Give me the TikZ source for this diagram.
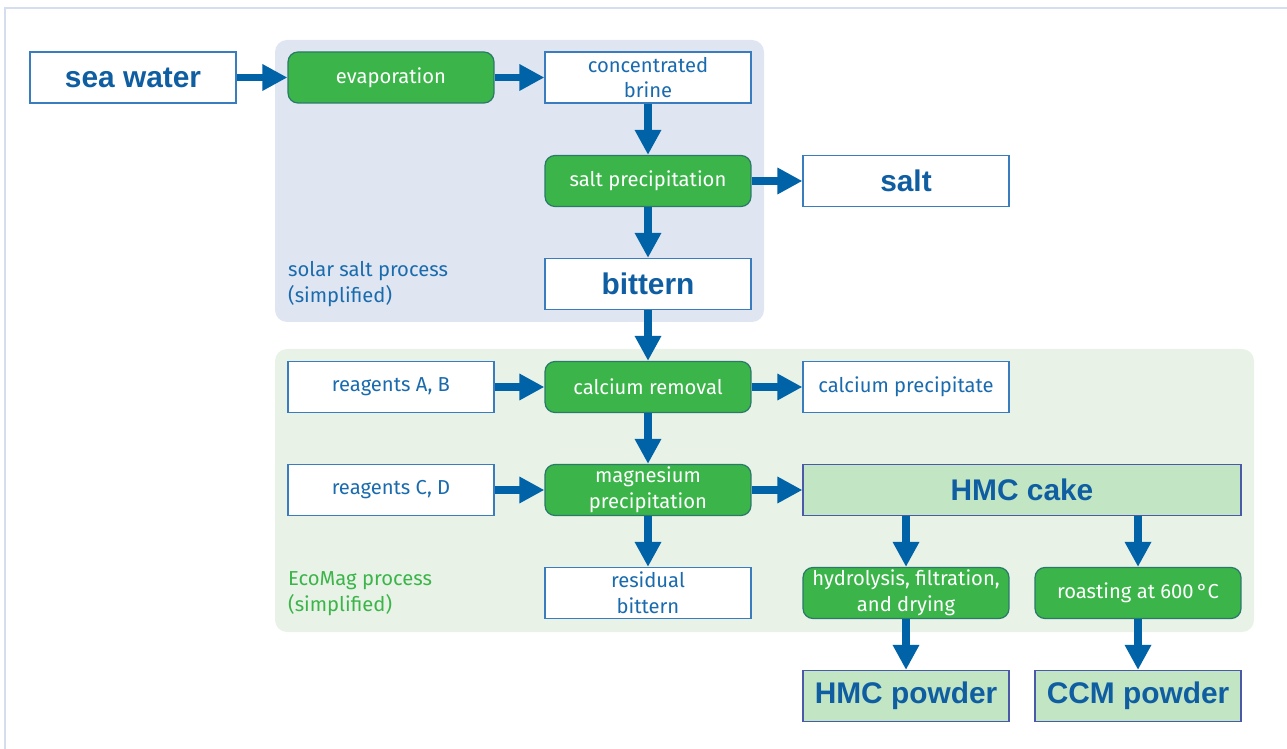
\documentclass[tikz,border=0pt]{standalone}
\usepackage{fontspec}
\setmainfont{Fira Sans}
\newfontfamily\headfont{Liberation Sans}
\usetikzlibrary{arrows.meta}
\definecolor{framecol}{HTML}{D5DEEE}
\definecolor{solarbg}{HTML}{DFE6F1}
\definecolor{ecobg}{HTML}{E8F2E6}
\definecolor{txtblue}{HTML}{1A6BAE}
\definecolor{headblue}{HTML}{0F5EA2}
\definecolor{boxline}{HTML}{3A7DBF}
\definecolor{procgreen}{HTML}{3BB54A}
\definecolor{procline}{HTML}{2A7A6A}
\definecolor{prodfill}{HTML}{C2E5C4}
\definecolor{prodline}{HTML}{4A5AA8}
\definecolor{arrowblue}{HTML}{0063A8}
\definecolor{ecogreen}{HTML}{3BB54A}
\tikzset{
  box/.style={draw=boxline, fill=white, line width=0.7pt, minimum width=4.12cm,
    minimum height=1.02cm, inner sep=0pt, text=txtblue, align=center,
    font=\fontsize{11.5}{14.6}\selectfont},
  proc/.style={box, fill=procgreen, draw=procline, rounded corners=0.2cm, text=white},
  prod/.style={box, text=headblue, font=\headfont\bfseries\fontsize{17}{20}\selectfont},
  prodg/.style={prod, fill=prodfill, draw=prodline},
  flow/.style={draw=arrowblue, line width=4.5pt, -{Triangle[width=0.5cm,length=0.5cm]}}
}
\begin{document}
\begin{tikzpicture}[x=0.02cm,y=-0.02cm]
\useasboundingbox (0,0) rectangle (1287,749);
% frame
\draw[framecol, line width=1.2pt] (5,749) -- (5,8) -- (1287,8);
% process areas
\fill[solarbg, rounded corners=0.24cm] (275,40) rectangle (764,322);
\fill[ecobg, rounded corners=0.24cm] (275,349) rectangle (1254,632);
\node[anchor=west, align=left, text=txtblue, font=\fontsize{11.5}{14.6}\selectfont] (solarlbl) at (282,284) {solar salt process\\(simplified)};
\node[anchor=west, align=left, text=ecogreen, font=\fontsize{11.5}{14.6}\selectfont] (ecolbl) at (282,594) {EcoMag process\\(simplified)};
% nodes
\node[prod] (sea) at (133,77.5) {sea water};
\node[proc] (evap) at (391,77.5) {evaporation};
\node[box] (brine) at (648,77.5) {concentrated\\brine};
\node[proc] (saltprec) at (648,181) {salt precipitation};
\node[prod] (salt) at (906,181) {salt};
\node[prod] (bittern) at (648,284) {bittern};
\node[box] (reagab) at (391,387) {reagents A, B};
\node[proc] (caremov) at (648,387) {calcium removal};
\node[box] (caprec) at (906,387) {calcium precipitate};
\node[box] (reagcd) at (391,490) {reagents C, D};
\node[proc] (mgprec) at (648,490) {magnesium\\precipitation};
\node[prodg, minimum width=8.76cm] (cake) at (1022,490) {HMC cake};
\node[box] (resid) at (648,593) {residual\\bittern};
\node[proc] (hydro) at (906,593) {hydrolysis, filtration,\\and drying};
\node[proc] (roast) at (1138,593) {roasting at 600\,°C};
\node[prodg] (hmcpow) at (906,696) {HMC powder};
\node[prodg] (ccmpow) at (1138,696) {CCM powder};
% arrows
\draw[flow] (sea) -- (evap);
\draw[flow] (evap) -- (brine);
\draw[flow] (brine) -- (saltprec);
\draw[flow] (saltprec) -- (salt);
\draw[flow] (saltprec) -- (bittern);
\draw[flow] (bittern) -- (caremov);
\draw[flow] (reagab) -- (caremov);
\draw[flow] (caremov) -- (caprec);
\draw[flow] (caremov) -- (mgprec);
\draw[flow] (reagcd) -- (mgprec);
\draw[flow] (mgprec) -- (cake);
\draw[flow] (mgprec) -- (resid);
\draw[flow] (cake.south -| hydro.north) -- (hydro);
\draw[flow] (cake.south -| roast.north) -- (roast);
\draw[flow] (hydro) -- (hmcpow);
\draw[flow] (roast) -- (ccmpow);
\end{tikzpicture}
\end{document}
